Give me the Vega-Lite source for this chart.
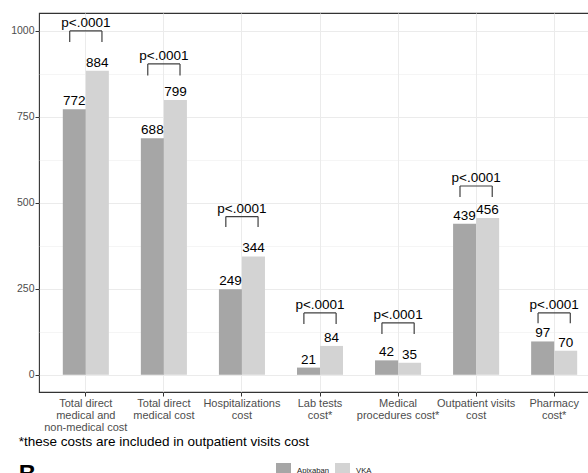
{
  "$schema": "https://vega.github.io/schema/vega-lite/v6.json",
  "width": 562,
  "height": 379,
  "padding": {"left": 10, "top": 13, "right": 0, "bottom": 0},
  "background": "white",
  "datasets": {
    "bars": [
      {"cat": "Total direct|medical and|non-medical cost", "group": "Apixaban", "value": 772},
      {"cat": "Total direct|medical and|non-medical cost", "group": "VKA", "value": 884},
      {"cat": "Total direct|medical cost", "group": "Apixaban", "value": 688},
      {"cat": "Total direct|medical cost", "group": "VKA", "value": 799},
      {"cat": "Hospitalizations|cost", "group": "Apixaban", "value": 249},
      {"cat": "Hospitalizations|cost", "group": "VKA", "value": 344},
      {"cat": "Lab tests|cost*", "group": "Apixaban", "value": 21},
      {"cat": "Lab tests|cost*", "group": "VKA", "value": 84},
      {"cat": "Medical|procedures cost*", "group": "Apixaban", "value": 42},
      {"cat": "Medical|procedures cost*", "group": "VKA", "value": 35},
      {"cat": "Outpatient visits|cost", "group": "Apixaban", "value": 439},
      {"cat": "Outpatient visits|cost", "group": "VKA", "value": 456},
      {"cat": "Pharmacy|cost*", "group": "Apixaban", "value": 97},
      {"cat": "Pharmacy|cost*", "group": "VKA", "value": 70}
    ],
    "brackets": [
      {"cat": "Total direct|medical and|non-medical cost", "top": 1000, "bottom": 968, "label": "p<.0001"},
      {"cat": "Total direct|medical cost", "top": 904, "bottom": 870, "label": "p<.0001"},
      {"cat": "Hospitalizations|cost", "top": 460, "bottom": 430, "label": "p<.0001"},
      {"cat": "Lab tests|cost*", "top": 180, "bottom": 148, "label": "p<.0001"},
      {"cat": "Medical|procedures cost*", "top": 151, "bottom": 119, "label": "p<.0001"},
      {"cat": "Outpatient visits|cost", "top": 549, "bottom": 517, "label": "p<.0001"},
      {"cat": "Pharmacy|cost*", "top": 180, "bottom": 150, "label": "p<.0001"}
    ]
  },
  "title": {
    "text": "*these costs are included in outpatient visits cost",
    "subtitle": "\u00a0\u00a0B",
    "orient": "bottom",
    "anchor": "start",
    "frame": "bounds",
    "dx": 8,
    "offset": -43,
    "font": "Liberation Sans",
    "fontSize": 13.5,
    "fontWeight": "normal",
    "color": "#000000",
    "subtitleFont": "Liberation Sans",
    "subtitleFontSize": 24,
    "subtitleFontWeight": "bold",
    "subtitleColor": "#000000",
    "subtitlePadding": 14
  },
  "encoding": {
    "x": {
      "field": "cat",
      "type": "nominal",
      "sort": null,
      "scale": {"paddingInner": 0.41, "paddingOuter": 0.305},
      "axis": {
        "title": null,
        "labelAngle": 0,
        "labelExpr": "split(datum.label, '|')",
        "labelFontSize": 11,
        "labelLineHeight": 12,
        "labelColor": "#4d4d4d",
        "labelPadding": 1,
        "labelOverlap": false,
        "labelLimit": 300,
        "tickSize": 4,
        "tickColor": "#333333",
        "domain": false,
        "grid": true,
        "gridColor": "#ebebeb",
        "gridWidth": 1
      }
    }
  },
  "layer": [
    {
      "data": {"name": "bars"},
      "mark": {"type": "bar"},
      "encoding": {
        "xOffset": {"field": "group", "type": "nominal", "scale": {"paddingInner": 0, "paddingOuter": 0}},
        "y": {
          "field": "value",
          "type": "quantitative",
          "scale": {"domain": [-50, 1052], "nice": false, "zero": false},
          "axis": {
            "title": null,
            "values": [0, 125, 250, 375, 500, 625, 750, 875, 1000],
            "labelExpr": "datum.value % 250 === 0 ? datum.label : ''",
            "format": "d",
            "labelFontSize": 10.5,
            "labelColor": "#4d4d4d",
            "labelPadding": 1,
            "tickSize": 4,
            "tickColor": {"condition": {"test": "datum.value % 250 !== 0", "value": "transparent"}, "value": "#333333"},
            "domain": false,
            "grid": true,
            "gridColor": "#ebebeb",
            "gridWidth": {"condition": {"test": "datum.value % 250 !== 0", "value": 0.5}, "value": 1}
          }
        },
        "y2": {"datum": 0},
        "color": {
          "field": "group",
          "type": "nominal",
          "scale": {"domain": ["Apixaban", "VKA"], "range": ["#a6a6a6", "#d3d3d3"]},
          "legend": {
            "title": null,
            "orient": "none",
            "legendX": 237,
            "legendY": 450,
            "direction": "horizontal",
            "symbolType": "square",
            "symbolSize": 225,
            "symbolStrokeWidth": 0,
            "symbolOpacity": 1,
            "labelFontSize": 7.7,
            "labelColor": "#1a1a1a",
            "labelOffset": 6,
            "columnPadding": 5
          }
        }
      }
    },
    {
      "data": {"name": "bars"},
      "mark": {"type": "text", "baseline": "alphabetic", "dy": -4, "fontSize": 13.5, "color": "#000000"},
      "encoding": {
        "xOffset": {"field": "group", "type": "nominal"},
        "y": {"field": "value", "type": "quantitative"},
        "text": {"field": "value", "type": "quantitative"}
      }
    },
    {
      "data": {"name": "brackets"},
      "mark": {"type": "rule", "color": "#404040", "strokeWidth": 1.2},
      "encoding": {
        "x": {"field": "cat", "type": "nominal", "sort": null, "bandPosition": 0.15},
        "x2": {"field": "cat", "bandPosition": 0.85},
        "y": {"field": "top", "type": "quantitative"}
      }
    },
    {
      "data": {"name": "brackets"},
      "mark": {"type": "rule", "color": "#404040", "strokeWidth": 1.2},
      "encoding": {
        "x": {"field": "cat", "type": "nominal", "sort": null, "bandPosition": 0.15},
        "y": {"field": "top", "type": "quantitative"},
        "y2": {"field": "bottom"}
      }
    },
    {
      "data": {"name": "brackets"},
      "mark": {"type": "rule", "color": "#404040", "strokeWidth": 1.2},
      "encoding": {
        "x": {"field": "cat", "type": "nominal", "sort": null, "bandPosition": 0.85},
        "y": {"field": "top", "type": "quantitative"},
        "y2": {"field": "bottom"}
      }
    },
    {
      "data": {"name": "brackets"},
      "mark": {"type": "text", "baseline": "alphabetic", "dy": -3.5, "fontSize": 13.5, "color": "#000000"},
      "encoding": {
        "y": {"field": "top", "type": "quantitative"},
        "text": {"field": "label"}
      }
    }
  ],
  "config": {
    "font": "Liberation Sans",
    "view": {"stroke": "#333333", "strokeWidth": 1.1}
  }
}
